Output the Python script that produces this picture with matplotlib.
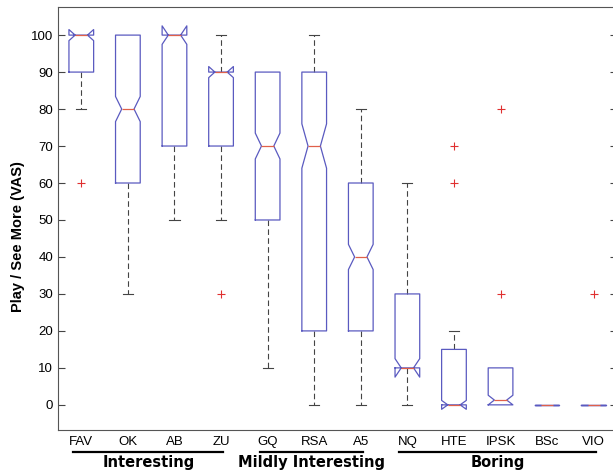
import matplotlib.pyplot as plt
from matplotlib.transforms import blended_transform_factory

plt.rcParams['font.family'] = ['Liberation Sans', 'DejaVu Sans']

# one entry per box
labels = ['FAV', 'OK', 'AB', 'ZU', 'GQ', 'RSA', 'A5', 'NQ', 'HTE', 'IPSK', 'BSc', 'VIO']
q1 = [90, 60, 70, 70, 50, 20, 20, 10, 0, 0, 0, 0]
med = [100, 80, 100, 90, 70, 70, 40, 10, 0, 1.3, 0, 0]
q3 = [100, 100, 100, 90, 90, 90, 60, 30, 15, 10, 0, 0]
whis_lo = [80, 30, 50, 50, 10, 0, 0, 0, 0, 0, 0, 0]
whis_hi = [100, 100, 100, 100, 90, 100, 80, 60, 20, 10, 0, 0]
notch = [1.5, 3.4, 2.5, 1.5, 3.5, 6.0, 3.4, 2.5, 1.2, 1.3, 0, 0]
outliers = [[60], [], [], [30], [], [], [], [], [60, 70], [30, 80], [], [30]]

groups = ['Interesting', 'Mildly Interesting', 'Boring']
group_span = [(1, 4), (5, 7), (8, 12)]

BOX_BLUE = '#5a5ac0'
MED_RED = '#e0604a'

stats = []
for i in range(len(labels)):
    stats.append(dict(label=labels[i], q1=q1[i], med=med[i], q3=q3[i],
                      whislo=whis_lo[i], whishi=whis_hi[i],
                      cilo=med[i] - notch[i], cihi=med[i] + notch[i],
                      fliers=outliers[i]))

fig = plt.figure(figsize=(6.13, 4.73), dpi=100)
ax = fig.add_axes([58 / 613, 43 / 473, 559 / 613, 423 / 473])

pos = list(range(1, len(labels) + 1))
bp = ax.bxp(stats, positions=pos, widths=0.53, capwidths=0.22, shownotches=True,
            boxprops=dict(color=BOX_BLUE, lw=0.9, zorder=3),
            medianprops=dict(color=MED_RED, lw=0.9, zorder=4),
            whiskerprops=dict(color='#444444', lw=0.8, ls=(0, (5, 3)), zorder=2),
            capprops=dict(color='#444444', lw=0.8, zorder=2),
            flierprops=dict(marker='+', markeredgecolor='#e03030', markersize=6,
                            markeredgewidth=0.8, ls='none'))

# no cap where the whisker has zero length (it would sit on the box edge)
for w, c in zip(bp['whiskers'], bp['caps']):
    y = w.get_ydata()
    if y[0] == y[1]:
        c.set_visible(False)

ax.set_xlim(0.5, 12.5)
ax.set_ylim(-6.8, 107.6)
ax.set_yticks(range(0, 101, 10))
ax.tick_params(axis='y', direction='in', length=5, labelsize=9.5, right=True,
               color='#444444')
ax.set_xticks(pos)
ax.set_xticklabels(labels, fontsize=9.5)
ax.tick_params(axis='x', length=0, pad=4)
ax.spines['right'].set_visible(False)
for s in ['left', 'bottom', 'top']:
    ax.spines[s].set_color('#555555')

# group brackets under the tick labels
trans = blended_transform_factory(ax.transData, ax.transAxes)
for name, (a, b) in zip(groups, group_span):
    x0, x1 = a - 0.17, b + 0.05
    ax.plot([x0, x1], [-0.052, -0.052], color='black', lw=1.6,
            transform=trans, clip_on=False)
    ax.text((x0 + x1) / 2, -0.078, name, transform=trans, ha='center', va='center',
            fontsize=10.5, fontweight='bold', family='DejaVu Sans')

fig.text(18 / 613, 0.5, 'Play / See More (VAS)', rotation=90, ha='center',
         va='center', fontsize=10.5, fontweight='bold')

fig.savefig('out.png', dpi=100)
